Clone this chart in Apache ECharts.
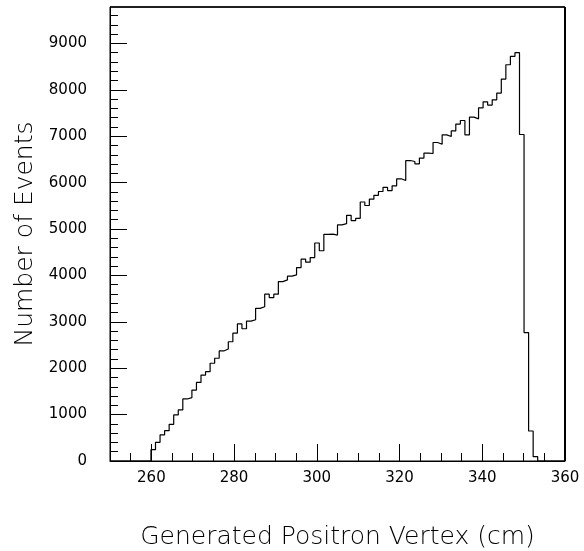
<!DOCTYPE html>
<html>
<head>
<meta charset="utf-8">
<script src="https://cdn.jsdelivr.net/npm/echarts@6/dist/echarts.min.js"></script>
<style>html,body{margin:0;padding:0;background:#fff;overflow:hidden;}#chart{width:584px;height:551px;}</style>
</head>
<body>
<div id="chart"></div>
<script>
// Histogram: 100 bins of width 1.1 cm from 250 to 360
const binStart = 250;
const binWidth = 1.1;
const counts = [
  0, 0, 0, 0, 0, 0, 0, 0, 0, 245,
  403, 561, 654, 791, 992, 1100, 1337, 1366, 1528, 1693,
  1851, 1926, 2107, 2215, 2372, 2415, 2570, 2754, 2954, 2850,
  3015, 3045, 3290, 3325, 3595, 3520, 3595, 3867, 3903, 3983,
  4011, 4169, 4350, 4285, 4385, 4698, 4532, 4885, 4889, 4870,
  5090, 5115, 5295, 5182, 5230, 5582, 5507, 5644, 5726, 5808,
  5898, 5829, 5931, 6082, 6045, 6476, 6455, 6405, 6528, 6636,
  6627, 6865, 6826, 7030, 6994, 7117, 7261, 7339, 7030, 7412,
  7375, 7613, 7742, 7671, 7785, 7930, 8231, 8540, 8719, 8800,
  7037, 2767, 647, 93, 0, 0, 0, 0, 0, 0
];
const xMajor = [260, 280, 300, 320, 340, 360];
const xMinor = [255, 260, 265, 270, 275, 280, 285, 290, 295, 300, 305, 310, 315, 320, 325, 330, 335, 340, 345, 350, 355];
const yMajor = [0, 1000, 2000, 3000, 4000, 5000, 6000, 7000, 8000, 9000];
const yMinor = [];
for (let v = 200; v <= 9600; v += 200) yMinor.push(v);
const xRange = [250, 360];
const yRange = [0, 9785];
const xTitle = 'Generated Positron Vertex (cm)';
const yTitle = 'Number of Events';

const points = counts.map((c, i) => [binStart + binWidth * i, c]);
points.push([binStart + binWidth * counts.length, counts[counts.length - 1]]);
// frame (top and right edges of the plot box)
const frameTop = [[xRange[0], yRange[1]], [xRange[1], yRange[1]]];
const frameRight = [[xRange[1], yRange[1]], [xRange[1], yRange[0]]];

const labelFont = {fontFamily: 'DejaVu Sans', fontSize: 15, color: '#000'};
const titleFont = {fontFamily: 'DejaVu Sans', fontSize: 25, fontWeight: 200, color: '#000'};
const plain = v => String(v);

const chart = echarts.init(document.getElementById('chart'), null, {renderer: 'canvas'});
chart.setOption({
  animation: false,
  backgroundColor: '#fff',
  grid: {left: 110, right: 19, top: 7, bottom: 90, show: true, borderColor: '#000', borderWidth: 1, containLabel: false, outerBoundsMode: 'none'},
  xAxis: [
    {
      type: 'value', min: xRange[0], max: xRange[1], position: 'bottom',
      axisLine: {show: true, onZero: false, lineStyle: {color: '#000', width: 1}},
      axisTick: {show: true, inside: true, length: 17, customValues: xMajor, lineStyle: {color: '#000'}},
      axisLabel: Object.assign({show: true, customValues: xMajor, margin: 10, formatter: plain}, labelFont),
      splitLine: {show: false},
      name: xTitle, nameLocation: 'middle', nameGap: 64,
      nameTextStyle: titleFont
    },
    {
      type: 'value', min: xRange[0], max: xRange[1], position: 'bottom',
      axisLine: {show: false, onZero: false},
      axisTick: {show: true, inside: true, length: 8, customValues: xMinor, lineStyle: {color: '#000'}},
      axisLabel: {show: false},
      splitLine: {show: false}
    }
  ],
  yAxis: [
    {
      type: 'value', min: yRange[0], max: yRange[1], position: 'left',
      axisLine: {show: true, onZero: false, lineStyle: {color: '#000', width: 1}},
      axisTick: {show: true, inside: true, length: 17, customValues: yMajor, lineStyle: {color: '#000'}},
      axisLabel: Object.assign({show: true, customValues: yMajor, margin: 23, formatter: plain}, labelFont),
      splitLine: {show: false},
      name: yTitle, nameLocation: 'middle', nameGap: 72, nameRotate: 90,
      nameTextStyle: titleFont
    },
    {
      type: 'value', min: yRange[0], max: yRange[1], position: 'left',
      axisLine: {show: false, onZero: false},
      axisTick: {show: true, inside: true, length: 8, customValues: yMinor, lineStyle: {color: '#000'}},
      axisLabel: {show: false},
      splitLine: {show: false}
    }
  ],
  series: [{
    type: 'line', xAxisIndex: 0, yAxisIndex: 0, step: 'end',
    data: points, showSymbol: false, symbol: 'none',
    lineStyle: {color: '#000', width: 1.2}
  }, {
    type: 'line', xAxisIndex: 0, yAxisIndex: 0, clip: false, silent: true,
    data: frameTop, showSymbol: false, symbol: 'none',
    lineStyle: {color: '#000', width: 1.3}
  }, {
    type: 'line', xAxisIndex: 0, yAxisIndex: 0, clip: false, silent: true,
    data: frameRight, showSymbol: false, symbol: 'none',
    lineStyle: {color: '#000', width: 2}
  }]
});
</script>
</body>
</html>
